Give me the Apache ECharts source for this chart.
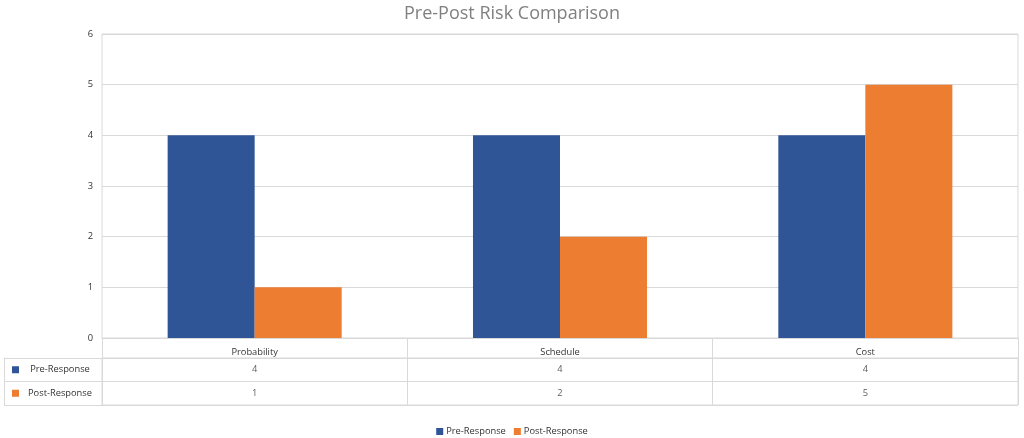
<!DOCTYPE html>
<html>
<head>
<meta charset="utf-8">
<script src="https://cdn.jsdelivr.net/npm/echarts@6/dist/echarts.min.js"></script>
<style>html,body{margin:0;padding:0;background:#fff}#c{width:1024px;height:438px}</style>
</head>
<body>
<div id="c"></div>
<script>
const title = 'Pre-Post Risk Comparison';
const categories = ['Probability', 'Schedule', 'Cost'];
const seriesNames = ['Pre-Response', 'Post-Response'];
const preResponse = [4, 4, 4];
const postResponse = [1, 2, 5];
const yTicks = { min: 0, max: 6, interval: 1 };

const colors = ['#2F5597', '#ED7D31'];
const gridColor = '#d9d9d9';
const textColor = '#333333';
const font = 'Open Sans';
const fs = 9.3;

const chart = echarts.init(document.getElementById('c'));
const values = [preResponse, postResponse];
const tableData = [];
values.forEach((arr, r) => arr.forEach((v, i) => tableData.push([categories[i], seriesNames[r], v])));

chart.setOption({
  animation: false,
  textStyle: { fontFamily: font },
  title: {
    text: title, left: 'center', top: 0,
    textStyle: { fontFamily: font, fontSize: 18, fontWeight: 'normal', color: '#808080' }
  },
  legend: {
    data: seriesNames, top: 422, left: 'center',
    icon: 'rect', itemWidth: 7, itemHeight: 7, itemGap: 8,
    textStyle: { fontSize: fs, color: textColor, fontFamily: font, padding: [0, 0, 0, -2] }
  },
  grid: [
    { left: 102, right: 6, top: 34, height: 304, show: true, borderColor: gridColor, borderWidth: 1, containLabel: false },
    { left: 102, right: 6, top: 358, height: 47, show: true, borderColor: gridColor, borderWidth: 1, containLabel: false }
  ],
  xAxis: [
    {
      type: 'category', gridIndex: 0, data: categories,
      axisLine: { show: true, lineStyle: { color: gridColor } },
      axisTick: { show: true, length: 67, alignWithLabel: false, lineStyle: { color: gridColor } },
      axisLabel: { margin: 10, fontSize: fs, color: textColor, fontFamily: font }
    },
    {
      type: 'category', gridIndex: 1, data: categories,
      axisLine: { show: false }, axisTick: { show: false }, axisLabel: { show: false },
      splitLine: { show: true, lineStyle: { color: gridColor } }
    }
  ],
  yAxis: [
    {
      type: 'value', gridIndex: 0, min: yTicks.min, max: yTicks.max, interval: yTicks.interval,
      axisLine: { show: false }, axisTick: { show: false },
      splitLine: { show: true, lineStyle: { color: gridColor } },
      axisLabel: { margin: 9, fontSize: fs, color: textColor, fontFamily: font }
    },
    {
      type: 'category', gridIndex: 1, data: seriesNames, inverse: true,
      axisLine: { show: false },
      axisTick: { show: true, length: 98, lineStyle: { color: gridColor } },
      splitLine: { show: true, lineStyle: { color: gridColor } },
      axisLabel: {
        align: 'left', margin: 90, fontSize: fs, color: textColor, fontFamily: font,
        formatter: (v) => '{sq' + seriesNames.indexOf(v) + '|}{t|' + v + '}',
        rich: {
          sq0: { width: 7, height: 7, backgroundColor: colors[0] },
          sq1: { width: 7, height: 7, backgroundColor: colors[1] },
          t: { width: 68, align: 'center', padding: [0, 0, 0, 7], fontSize: fs, color: textColor, fontFamily: font }
        }
      }
    },
    {
      type: 'category', gridIndex: 1, data: seriesNames, inverse: true, position: 'left', offset: 98,
      axisLine: { show: true, lineStyle: { color: gridColor } },
      axisTick: { show: false }, axisLabel: { show: false }, splitLine: { show: false }
    }
  ],
  series: [
    {
      name: seriesNames[0], type: 'bar', xAxisIndex: 0, yAxisIndex: 0,
      data: preResponse, barGap: '0%', barCategoryGap: '43%',
      itemStyle: { color: colors[0] }
    },
    {
      name: seriesNames[1], type: 'bar', xAxisIndex: 0, yAxisIndex: 0,
      data: postResponse, barGap: '0%', barCategoryGap: '43%',
      itemStyle: { color: colors[1] }
    },
    {
      name: 'table', type: 'scatter', xAxisIndex: 1, yAxisIndex: 1,
      data: tableData, symbolSize: 1, itemStyle: { color: 'rgba(0,0,0,0)' },
      silent: true,
      label: {
        show: true, position: 'inside', fontSize: fs, color: textColor, fontFamily: font,
        formatter: (p) => String(p.value[2])
      }
    }
  ]
});
</script>
</body>
</html>
